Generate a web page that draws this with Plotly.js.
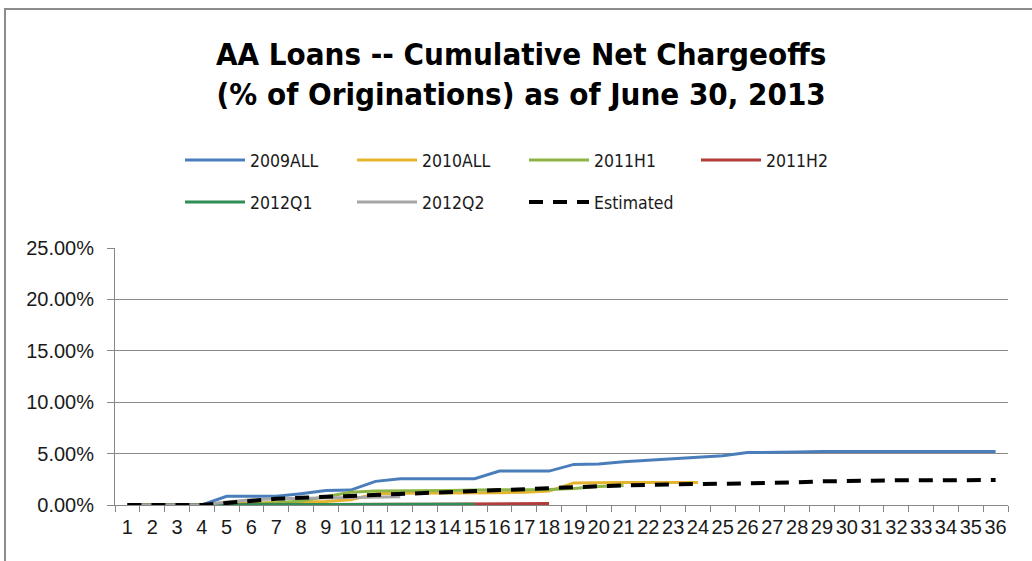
<!DOCTYPE html>
<html>
<head>
<meta charset="utf-8">
<script src="https://cdn.plot.ly/plotly-3.0.1.min.js"></script>
<style>html,body{margin:0;padding:0;background:#fff;}#chart{width:1032px;height:561px;}</style>
</head>
<body>
<div id="chart"></div>
<script>
// ---- data (cumulative net chargeoffs, % of originations) ----
const months = Array.from({length: 36}, (_, i) => String(i + 1));
const s2009ALL = [0,0,0,0,0.85,0.85,0.85,1.1,1.4,1.45,2.3,2.55,2.55,2.55,2.55,3.3,3.3,3.3,3.95,4.0,4.2,4.35,4.5,4.65,4.8,5.1,5.1,5.15,5.2,5.2,5.2,5.2,5.2,5.2,5.2,5.2];
const s2010ALL = [0,0,0,0,0.1,0.2,0.25,0.3,0.35,0.5,1.1,1.15,1.15,1.15,1.15,1.2,1.25,1.35,2.15,2.2,2.2,2.2,2.2,2.2];
const s2011H1 = [0,0,0,0,0.05,0.1,0.2,0.4,0.8,1.25,1.35,1.35,1.4,1.4,1.45,1.45,1.5,1.5,1.6,1.8,1.9];
const s2011H2 = [0,0,0,0,0,0,0.02,0.03,0.04,0.05,0.06,0.07,0.08,0.1,0.1,0.12,0.13,0.15];
const s2012Q1 = [0,0,0,0,0,0,0.02,0.03,0.04,0.05,0.05,0.06,0.07,0.08,0.08];
const s2012Q2 = [0,0,0,0,0.3,0.5,0.6,0.65,0.7,0.75,0.8,0.8];
const estimated = [0,0,0,0,0.2,0.42,0.6,0.7,0.8,0.88,0.97,1.1,1.22,1.32,1.4,1.5,1.57,1.65,1.73,1.82,1.9,1.98,2.03,2.05,2.07,2.1,2.15,2.2,2.3,2.35,2.38,2.4,2.4,2.42,2.42,2.43];
const seriesNames = ['2009ALL','2010ALL','2011H1','2011H2','2012Q1','2012Q2','Estimated'];
const yTickVals = [0,5,10,15,20,25];
const yTickText = yTickVals.map(v => v.toFixed(2) + '%');

// ---- styles ----
const colors = ['#4A7EBB','#E5B42F','#8CB545','#B23C3A','#2E8E55','#A6A6A6','#000000'];
const seriesData = [s2009ALL,s2010ALL,s2011H1,s2011H2,s2012Q1,s2012Q2,estimated];

const traces = seriesData.map((vals, i) => ({
  type: 'scatter',
  mode: 'lines',
  name: seriesNames[i],
  x: months.slice(0, vals.length),
  y: vals,
  line: i === 6 ? {color: colors[i], width: 4, dash: '14px,10px'} : {color: colors[i], width: 3},
  legend: i < 4 ? 'legend' : 'legend2',
  hoverinfo: 'skip'
}));

const legendFont = {family: 'DejaVu Sans Condensed, Liberation Sans, sans-serif', size: 17.5, color: '#1a1a1a'};
const legendCommon = {
  orientation: 'h', xref: 'container', yref: 'container',
  xanchor: 'left', yanchor: 'middle',
  itemwidth: 60, entrywidth: 97, entrywidthmode: 'pixels',
  font: legendFont, bgcolor: 'rgba(0,0,0,0)', borderwidth: 0,
  traceorder: 'normal', itemclick: false, itemdoubleclick: false
};

const layout = {
  width: 1032, height: 561,
  paper_bgcolor: '#ffffff', plot_bgcolor: '#ffffff',
  margin: {l: 115, r: 24, t: 248, b: 56},
  title: {
    text: 'AA Loans -- Cumulative Net Chargeoffs<br>(% of Originations) as of June 30, 2013',
    font: {family: 'DejaVu Sans Condensed, sans-serif', size: 31, color: '#000', weight: 700},
    x: 0.505, xanchor: 'center', xref: 'container',
    y: 0.885, yanchor: 'top', yref: 'container'
  },
  xaxis: {
    type: 'category',
    tickmode: 'array', tickvals: months, ticktext: months,
    range: [-0.5, 35.5],
    tickson: 'boundaries', ticks: 'outside', ticklen: 6, tickcolor: '#868686',
    ticklabelstandoff: 4,
    showline: true, linecolor: '#868686', linewidth: 1,
    showgrid: false, zeroline: false, tickangle: 0,
    tickfont: {family: 'Liberation Sans, Arial, sans-serif', size: 20, color: '#1a1a1a'},
    fixedrange: true
  },
  yaxis: {
    range: [0, 25],
    tickmode: 'array', tickvals: yTickVals, ticktext: yTickText,
    ticks: 'outside', ticklen: 7, tickcolor: '#868686',
    ticklabelstandoff: 9,
    showline: true, linecolor: '#868686', linewidth: 1,
    showgrid: true, gridcolor: '#8a8a8a', gridwidth: 1,
    zeroline: false,
    tickfont: {family: 'Liberation Sans, Arial, sans-serif', size: 20, color: '#1a1a1a'},
    fixedrange: true
  },
  legend: Object.assign({}, legendCommon, {x: 180/1032, y: 1 - 160/561}),
  legend2: Object.assign({}, legendCommon, {x: 180/1032, y: 1 - 202/561}),
  shapes: [{
    type: 'rect', xref: 'paper', yref: 'paper',
    x0: (5 - 115) / 893, x1: (1045 - 115) / 893,
    y0: (505 - 575) / 257, y1: (505 - 9) / 257,
    line: {color: '#8c8c8c', width: 2}, fillcolor: 'rgba(0,0,0,0)', layer: 'below'
  }],
  showlegend: true
};

Plotly.newPlot('chart', traces, layout, {displayModeBar: false, staticPlot: true});
</script>
</body>
</html>
